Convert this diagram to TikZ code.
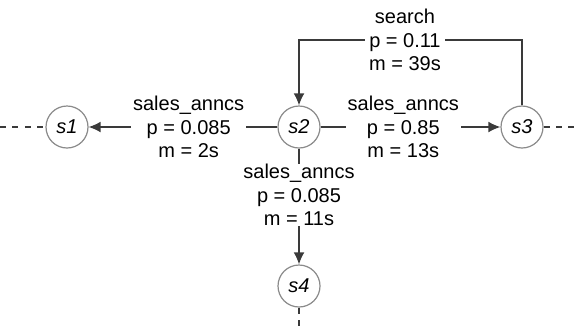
\documentclass[tikz,border=0pt]{standalone}
\usepackage{fontspec}
\setmainfont{Liberation Sans}
\usetikzlibrary{arrows.meta}
\definecolor{edgec}{HTML}{3A3A3A}
\definecolor{circc}{HTML}{8A8A8A}
\tikzset{
  state/.style={circle, draw=circc, line width=0.6pt, minimum size=21pt, inner sep=0pt, fill=white, font=\itshape},
  trans/.style={draw=edgec, line width=0.7pt},
  arr/.style={trans, -{Latex[length=6pt,width=5.4pt]}},
  lbl/.style={fill=white, align=center, inner xsep=1pt, inner ysep=0pt, font=\fontsize{10pt}{11.8pt}\selectfont},
  dashline/.style={draw=edgec, line width=0.6pt, dash pattern=on 3pt off 3.2pt}
}
\begin{document}
\begin{tikzpicture}[x=0.5pt,y=-0.5pt]
\useasboundingbox (0,0) rectangle (576,329);
\node[state] (s1) at (67,127) {s1};
\node[state] (s2) at (299,127) {s2};
\node[state] (s3) at (522,127) {s3};
\node[state] (s4) at (299,286) {s4};
\coordinate (l) at (0,127);
\coordinate (r) at (576,127);
\coordinate (b) at (299,329);
\coordinate (tr) at (522,40);
\coordinate (tl) at (299,40);
\draw[dashline] (l) -- (s1);
\draw[dashline] (s3) -- (r);
\draw[dashline] (s4) -- (b);
\draw[arr] (s2) -- node[lbl, pos=0.47] {sales\_anncs\\p = 0.085\\m = 2s} (s1);
\draw[arr] (s2) -- node[lbl, pos=0.46] {sales\_anncs\\p = 0.85\\m = 13s} (s3);
\draw[arr] (s2) -- node[lbl, pos=0.40] {sales\_anncs\\p = 0.085\\m = 11s} (s4);
\draw[arr] (s3.north) -- (tr) -- node[lbl, pos=0.525, inner xsep=2pt] {search\\p = 0.11\\m = 39s} (tl) -- (s2.north);
\end{tikzpicture}
\end{document}
